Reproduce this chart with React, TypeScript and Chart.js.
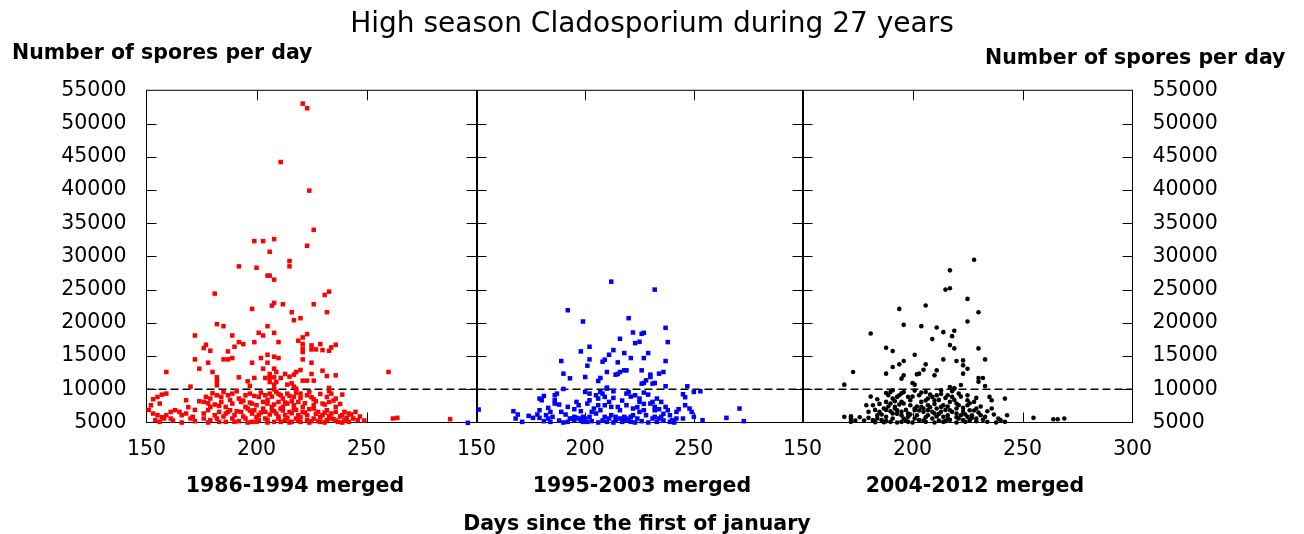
import React, { useEffect, useRef } from 'react';
import { Chart, registerables } from 'chart.js';

Chart.register(...registerables);

const FONT = "'DejaVu Sans', 'Noto Sans', sans-serif";

const TITLE = 'High season Cladosporium during 27 years';
const Y_LABEL = 'Number of spores per day';
const X_LABEL = 'Days since the first of january';
const PERIODS = ['1986-1994 merged', '1995-2003 merged', '2004-2012 merged'];
const PANEL_IDS = ['x1', 'x2', 'x3'];
const PANEL_COLORS = ['#ff0000', '#0000ff', '#000000'];

const DAY_MIN = 150;
const DAY_MAX = 300;
const DAY_STEP = 50;
const SPORE_MIN = 5000;
const SPORE_MAX = 55000;
const SPORE_STEP = 5000;
const THRESHOLD = 10000;

// [day of year, spores per day]
const period1986: [number, number][] = [
  [221, 53000], [223, 52300], [211, 44200], [224, 39900], [226, 34000], [199, 32300], [203, 32300], [208, 32600],
  [223, 31600], [206, 30700], [215, 29300], [215, 28500], [192, 28500], [200, 28300], [205, 27100], [206, 27100],
  [208, 26500], [181, 24400], [231, 24200], [233, 24700], [208, 23000], [207, 22600], [212, 22800], [198, 22100],
  [226, 22800], [232, 21600], [216, 21600], [217, 20400], [220, 20700], [182, 19800], [185, 19500], [205, 19500],
  [201, 18500], [203, 18100], [208, 18500], [172, 18100], [189, 18100], [223, 18300], [221, 17800], [219, 17300],
  [199, 17100], [210, 17100], [192, 17100], [194, 16800], [190, 16400], [177, 16700], [176, 16200], [179, 15800],
  [187, 15700], [221, 16800], [221, 16100], [221, 15600], [225, 16600], [225, 16000], [227, 16000], [229, 16800],
  [230, 15900], [236, 16700], [234, 16300], [233, 15800], [202, 14700], [205, 15200], [208, 14900], [210, 14700],
  [185, 14500], [187, 14500], [189, 14700], [172, 14500], [198, 14000], [221, 14500], [205, 14000], [178, 14000],
  [225, 14000], [174, 13100], [203, 13100], [208, 13100], [220, 12900], [218, 12600], [230, 12800], [159, 12600],
  [260, 12600], [180, 12600], [206, 12300], [209, 12600], [213, 12300], [225, 12300], [232, 12000], [236, 12100],
  [182, 11800], [192, 11800], [199, 11700], [204, 11700], [206, 11700], [208, 11800], [215, 11900], [217, 12200],
  [211, 11700], [221, 11300], [223, 11300], [226, 11300], [182, 11200], [196, 11200], [206, 11100], [209, 11100],
  [216, 10900], [170, 10400], [182, 10600], [197, 10500], [208, 10700], [214, 10700], [217, 10400], [218, 10100],
  [233, 10200], [208, 10000],
  [153, 8500], [155, 8850], [157, 9200], [159, 9350], [168, 8350], [177, 8850], [179, 8600], [182, 9100],
  [184, 8850], [187, 9100], [189, 9350], [192, 8600], [195, 9100], [197, 9350], [201, 8850], [204, 9100],
  [206, 9350], [209, 9600], [211, 9100], [214, 9350], [217, 8850], [220, 9350], [223, 9100], [226, 8500],
  [232, 8850], [234, 9350], [239, 9200], [236, 8600],
  [152, 7600], [156, 7850], [176, 8100], [179, 7350], [181, 7700], [184, 8100], [186, 7350], [189, 7850],
  [193, 8100], [195, 7350], [198, 7850], [200, 7600], [203, 8100], [205, 7850], [207, 7350], [210, 8100],
  [212, 7350], [214, 7850], [217, 7600], [219, 8100], [221, 7350], [226, 7600], [230, 7850], [233, 8100],
  [236, 7350],
  [153, 6350], [155, 6100], [159, 6100], [161, 6600], [163, 6850], [166, 6100], [168, 6350], [171, 5850],
  [176, 6350], [178, 6850], [181, 6100], [183, 6600], [186, 6350], [188, 6850], [190, 6100], [193, 6600],
  [196, 7100], [198, 6350], [199, 6850], [201, 6100], [203, 7100], [204, 6600], [207, 6850], [209, 6350],
  [211, 7100], [213, 6100], [215, 6600], [217, 7100], [219, 6100], [221, 6600], [223, 6100], [226, 7100],
  [228, 6600], [230, 6100], [232, 6850], [234, 6350], [236, 6600], [239, 6100], [240, 6600], [242, 6350],
  [245, 6600],
  [154, 5350], [158, 5600], [161, 5600], [170, 5600], [176, 5600], [179, 5350], [182, 5600], [186, 5100],
  [189, 5600], [190, 5100], [195, 5600], [198, 5100], [201, 5350], [204, 5600], [208, 5100], [210, 5600],
  [213, 5350], [216, 5100], [218, 5600], [220, 5100], [223, 5350], [226, 5600], [229, 5100], [232, 5350],
  [234, 5600], [237, 5100], [240, 5350], [242, 5100], [244, 5600], [246, 5350],
  [262, 5600], [264, 5700], [288, 5500],
  [191, 9700], [194, 8300], [197, 8000], [199, 9000], [202, 9500], [205, 8400], [207, 8900], [208, 7700],
  [210, 9300], [212, 8600], [213, 8000], [215, 9000], [216, 8200], [218, 9500], [220, 8700], [222, 7900],
  [224, 9600], [225, 8800], [227, 8200], [229, 9300], [231, 7700], [233, 9700], [235, 8300], [238, 7800],
  [188, 8400], [185, 9600], [183, 7500], [180, 9400], [178, 7900], [174, 8200], [172, 6900], [169, 7300],
  [165, 6600], [162, 5300], [157, 5800], [151, 6900], [185, 5900], [187, 6600], [191, 6700], [194, 5900],
  [197, 6800], [200, 5800], [202, 6500], [205, 5400], [206, 6200], [208, 6700], [210, 5900], [212, 6800],
  [214, 5700], [216, 6400], [218, 6900], [220, 5800], [222, 6500], [224, 7000], [225, 5200], [227, 6300],
  [229, 5800], [231, 6500], [233, 6000], [235, 5500], [238, 5900], [241, 5700], [243, 6200], [247, 5900],
  [249, 5300], [192, 5200], [196, 5000], [200, 5100], [205, 5000], [211, 5100], [215, 5000], [219, 5300],
  [224, 5000], [228, 5200], [231, 5000], [236, 5300], [239, 5000], [183, 5100], [178, 5000], [172, 5200],
  [166, 5000], [156, 5100],
];

const period1995: [number, number][] = [
  [212, 26200], [232, 25000], [192, 21900], [199, 20200], [220, 20700], [222, 18550], [226, 18350], [227, 18500],
  [237, 19250], [216, 17600], [223, 16950], [225, 17150], [238, 17100], [202, 16400], [198, 15700], [213, 15900],
  [218, 15450], [211, 15200], [229, 15450], [221, 14700], [227, 14700], [209, 14450], [208, 14150], [202, 14500],
  [215, 14050], [189, 14250], [237, 14250], [201, 13550], [190, 12350], [210, 12600], [214, 12200], [216, 12600],
  [215, 12300], [218, 12850], [219, 12850], [226, 12850], [193, 11650], [200, 11850], [207, 11700], [206, 11250],
  [230, 12200], [234, 12350], [236, 12600], [228, 11350], [230, 11850], [227, 10950], [231, 10850], [232, 10950],
  [226, 10850], [237, 10450], [247, 10450], [190, 10050], [210, 10250],
  [151, 6950], [167, 6700], [169, 6200], [171, 5100], [168, 5600], [176, 5700], [179, 5700], [179, 6850],
  [179, 8600], [180, 8350], [182, 6100], [183, 5600], [185, 5850], [184, 6600], [186, 7850], [186, 9100],
  [187, 9350], [186, 8350], [189, 6600], [192, 7350], [194, 5600], [195, 5850], [196, 8100], [197, 7600],
  [197, 5600], [199, 5850], [200, 5600], [202, 5850], [200, 9600], [202, 9350], [202, 8350], [201, 7850],
  [203, 6600], [205, 6350], [207, 6850], [205, 9100], [206, 8600], [208, 9350], [209, 8850], [210, 10100],
  [209, 7600], [211, 8100], [212, 7350], [209, 5850], [211, 5600], [212, 6100], [214, 5350], [216, 5600],
  [218, 5850], [219, 5600], [221, 5850], [222, 6100], [215, 7350], [216, 6850], [219, 9350], [220, 9600],
  [219, 7600], [222, 7100], [223, 9100], [225, 8600], [225, 8100], [225, 6600], [227, 6850], [228, 6100],
  [230, 7850], [232, 7350], [232, 6850], [231, 5600], [232, 5850], [234, 5600], [235, 5850], [233, 8600],
  [235, 8100], [237, 7350], [238, 6850], [239, 5100], [240, 5350], [242, 6600], [242, 5600], [245, 5600],
  [246, 7600], [248, 7100], [249, 6600], [250, 5850], [254, 5350], [265, 5700], [271, 7100], [273, 5200],
  [245, 9250], [250, 9600], [253, 9700], [193, 5600], [196, 5700], [198, 5350], [201, 5100], [214, 5850],
  [218, 5350], [221, 5100], [224, 5600], [146, 4950],
  [181, 5200], [184, 5100], [188, 5300], [190, 5000], [192, 5100], [195, 5400], [199, 5100], [203, 5200],
  [206, 5000], [208, 5300], [210, 5100], [213, 5000], [217, 5100], [220, 5300], [223, 5000], [226, 5200],
  [229, 5000], [233, 5100], [236, 5300], [241, 5000], [204, 7100], [206, 7600], [213, 8700], [217, 8300],
  [221, 8900], [224, 7300], [227, 7800], [229, 9200], [231, 8100], [234, 7000], [236, 6300], [239, 6100],
  [243, 7000], [198, 6700], [195, 7000], [191, 6200], [188, 7700], [183, 7200], [181, 9000], [178, 6200],
  [174, 6000], [213, 9700], [207, 9600], [227, 9500], [246, 8800],
];

const period2004: [number, number][] = [
  [228, 29500], [217, 27900], [215, 25000], [217, 25200], [225, 23600], [206, 22600], [194, 22100], [230, 21600],
  [225, 20200], [196, 19700], [181, 18400], [204, 19500], [211, 19300], [214, 18600], [219, 18800], [218, 18000],
  [209, 17550], [217, 16650], [219, 16150], [188, 16250], [191, 15750], [230, 16150], [201, 15200], [196, 14250],
  [194, 13750], [191, 13350], [206, 13750], [214, 14500], [220, 14250], [223, 14350], [223, 13600], [225, 13100],
  [233, 14500], [173, 12600], [188, 12350], [196, 12100], [195, 11600], [202, 12250], [203, 12350], [205, 12950],
  [210, 12100], [211, 12850], [223, 12350], [230, 11700], [232, 11700], [230, 11150], [222, 10650], [200, 10950],
  [201, 10700], [169, 10700], [233, 10500], [217, 10350], [219, 10150],
  [169, 5850], [172, 5950], [172, 5600], [179, 7600], [182, 7600], [180, 5700], [182, 5350], [184, 6100],
  [184, 8500], [185, 6600], [187, 7100], [188, 5850], [186, 5350], [188, 8100], [190, 7850], [189, 9100],
  [190, 9600], [191, 9850], [191, 8600], [192, 7350], [194, 9100], [195, 8100], [191, 6350], [193, 6850],
  [195, 6100], [196, 5600], [191, 5600], [196, 9600], [198, 8850], [199, 7600], [201, 7100], [198, 5850],
  [201, 5600], [202, 6100], [203, 9100], [204, 8100], [206, 9600], [207, 8600], [207, 7600], [205, 6600],
  [207, 6100], [209, 5600], [210, 8350], [211, 9100], [213, 9850], [211, 7100], [213, 6600], [214, 5850],
  [216, 5600], [216, 9100], [217, 8100], [218, 8850], [219, 10100], [220, 7100], [220, 6350], [222, 6100],
  [221, 5600], [223, 5350], [225, 7600], [226, 6850], [228, 8100], [229, 7100], [225, 5850], [227, 6100],
  [229, 5600], [231, 6100], [233, 5850], [235, 8850], [236, 8350], [236, 7100], [239, 5600], [240, 5350],
  [242, 5100], [243, 6100], [242, 8600], [255, 5700], [264, 5500], [266, 5500], [269, 5600],
  [192, 7100], [195, 6600], [198, 6350], [201, 6850], [204, 7350], [207, 6850], [210, 6350], [213, 7350],
  [217, 6850], [220, 7850], [223, 6600], [226, 5350], [214, 5100], [206, 5100], [198, 5100], [190, 5100],
  [184, 5600], [196, 7850], [203, 5350], [216, 6100], [209, 8850], [199, 8350], [193, 8850], [221, 9350],
  [225, 8350], [172, 5100], [183, 5050], [187, 5050], [188, 9450],
  [186, 6200], [188, 6900], [189, 7400], [190, 6700], [192, 8200], [193, 6300], [194, 7700], [195, 9400],
  [197, 6900], [197, 5300], [199, 6200], [200, 8900], [201, 9800], [202, 7400], [203, 6800], [204, 9500],
  [205, 7100], [206, 8300], [206, 5800], [208, 7300], [208, 9200], [209, 6600], [210, 7800], [211, 5900],
  [212, 8400], [212, 6300], [213, 9300], [214, 7600], [215, 6900], [215, 8700], [216, 7400], [217, 5400],
  [218, 6600], [218, 9700], [219, 8400], [220, 5800], [221, 7600], [222, 8900], [223, 7200], [224, 6200],
  [225, 9100], [226, 7900], [227, 5700], [228, 6800], [229, 8700], [230, 6500], [231, 7400], [232, 5400],
  [234, 6700], [237, 6200], [185, 7800], [183, 6900], [181, 8900], [180, 6600], [178, 5300], [176, 5800],
  [174, 5300], [195, 5100], [200, 5000], [205, 5300], [210, 5000], [215, 5200], [220, 5000], [224, 5100],
  [229, 5200], [234, 5100], [238, 5000], [188, 5200], [193, 5000], [212, 5300],
];

const PERIOD_DATA = [period1986, period1995, period2004];

const framePlugin = {
  id: 'gnuplotFrame',
  beforeDatasetsDraw(chart: any) {
    const { ctx, chartArea } = chart;
    const { top, bottom } = chartArea;
    const yScale = chart.scales.y;
    const line = (x1: number, y1: number, x2: number, y2: number) => {
      ctx.beginPath();
      ctx.moveTo(x1, y1);
      ctx.lineTo(x2, y2);
      ctx.stroke();
    };
    ctx.save();
    ctx.strokeStyle = '#000';
    ctx.lineWidth = 1;
    PANEL_IDS.forEach((id) => {
      const s = chart.scales[id];
      const l = s.left;
      const r = s.right;
      ctx.strokeRect(l, top, r - l, bottom - top);
      s.ticks.forEach((t: any) => {
        if (t.value <= s.min || t.value >= s.max) return;
        const px = Math.round(s.getPixelForValue(t.value)) + 0.5;
        line(px, bottom, px, bottom - 10);
        line(px, top, px, top + 10);
      });
      yScale.ticks.forEach((t: any) => {
        if (t.value <= yScale.min || t.value >= yScale.max) return;
        const py = Math.round(yScale.getPixelForValue(t.value)) + 0.5;
        line(l, py, l + 10, py);
        line(r, py, r - 10, py);
      });
    });
    ctx.lineWidth = 2;
    PANEL_IDS.slice(1).forEach((id) => {
      const x = Math.round(chart.scales[id].left);
      line(x, top, x, bottom);
    });
    ctx.restore();
  },
};

const textPlugin = {
  id: 'freeText',
  afterDraw(chart: any) {
    const { ctx } = chart;
    ctx.save();
    ctx.fillStyle = '#000';
    ctx.font = `bold 20.5px ${FONT}`;
    ctx.textBaseline = 'alphabetic';
    ctx.textAlign = 'left';
    ctx.fillText(Y_LABEL, 12, 59);
    ctx.fillText(Y_LABEL, 985, 63.5);
    ctx.textAlign = 'center';
    const offsets = [-16.5, 2.5, 7.5];
    PANEL_IDS.forEach((id, i) => {
      const s = chart.scales[id];
      ctx.fillText(PERIODS[i], (s.left + s.right) / 2 + offsets[i], 491.5);
    });
    ctx.fillText(X_LABEL, 637, 530);
    ctx.restore();
  },
};

export default function App() {
  const canvasRef = useRef<HTMLCanvasElement | null>(null);

  useEffect(() => {
    const canvas = canvasRef.current;
    if (!canvas) return;

    const scatterSets = PERIOD_DATA.map((pts, i) => ({
      type: 'scatter' as const,
      label: PERIODS[i],
      data: pts.map(([x, y]) => ({ x, y })),
      xAxisID: PANEL_IDS[i],
      yAxisID: 'y',
      pointStyle: i === 2 ? 'circle' : 'rect',
      pointRadius: i === 2 ? 2.3 : 3.2,
      pointHoverRadius: i === 2 ? 2.3 : 3.2,
      backgroundColor: PANEL_COLORS[i],
      borderWidth: 0,
      showLine: false,
      clip: false as const,
    }));

    const thresholdSets = PANEL_IDS.map((id) => ({
      type: 'scatter' as const,
      label: 'threshold',
      data: [
        { x: DAY_MIN, y: THRESHOLD },
        { x: DAY_MAX, y: THRESHOLD },
      ],
      xAxisID: id,
      yAxisID: 'y',
      showLine: true,
      pointRadius: 0,
      pointHoverRadius: 0,
      borderColor: '#000',
      borderWidth: 1.4,
      borderDash: [8, 4],
      clip: false as const,
    }));

    const xScale = (i: number) => ({
      type: 'linear' as const,
      position: 'bottom' as const,
      stack: 'panels',
      stackWeight: i === 1 ? 326 : 330,
      min: DAY_MIN,
      max: DAY_MAX,
      grid: { display: false, drawTicks: false },
      border: { display: false },
      ticks: {
        stepSize: DAY_STEP,
        autoSkip: false,
        maxRotation: 0,
        minRotation: 0,
        padding: 14.4,
        color: '#000',
        font: { family: FONT, size: 20.5 },
        callback: (v: any) => (v === DAY_MAX && i < 2 ? '' : String(v)),
      },
      afterFit: (s: any) => {
        s.height = 111.5;
      },
    });

    const yTicks = {
      stepSize: SPORE_STEP,
      padding: 20,
      color: '#000',
      font: { family: FONT, size: 20.5 },
      callback: (v: any) => String(v),
    };

    const chart = new Chart(canvas, {
      type: 'scatter',
      data: { datasets: [...scatterSets, ...thresholdSets] as any },
      options: {
        responsive: false,
        animation: false,
        devicePixelRatio: 1,
        events: [],
        layout: { padding: 0 },
        plugins: {
          legend: { display: false },
          tooltip: { enabled: false },
          title: {
            display: true,
            text: TITLE,
            color: '#000',
            font: { family: FONT, size: 28, weight: 'normal' },
            padding: { top: 8, bottom: 48.7 },
          },
        },
        scales: {
          x1: xScale(0),
          x2: xScale(1),
          x3: xScale(2),
          y: {
            type: 'linear',
            position: 'left',
            min: SPORE_MIN,
            max: SPORE_MAX,
            grid: { display: false, drawTicks: false },
            border: { display: false },
            ticks: yTicks,
            afterFit: (s: any) => {
              s.width = 146.5;
            },
          },
          y2: {
            type: 'linear',
            position: 'right',
            min: SPORE_MIN,
            max: SPORE_MAX,
            grid: { display: false, drawTicks: false },
            border: { display: false },
            ticks: yTicks,
            afterFit: (s: any) => {
              s.width = 171.5;
            },
          },
        } as any,
      },
      plugins: [framePlugin, textPlugin],
    } as any);

    return () => {
      chart.destroy();
    };
  }, []);

  return (
    <div style={{ position: 'absolute', left: 0, top: 0, width: 1304, height: 534, background: '#fff' }}>
      <canvas ref={canvasRef} width={1304} height={534} style={{ width: 1304, height: 534, display: 'block' }} />
    </div>
  );
}
